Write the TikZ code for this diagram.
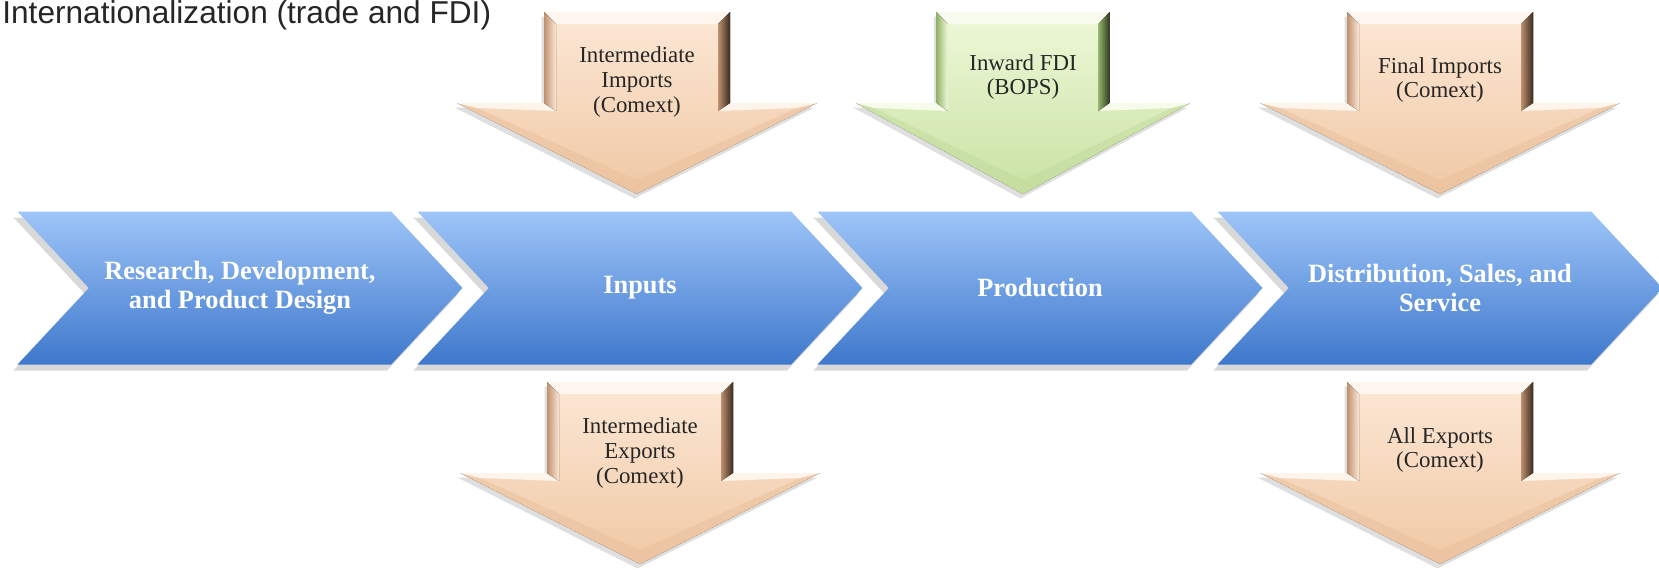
\documentclass[tikz,border=0pt]{standalone}
\usepackage{fontspec}
\setmainfont{Liberation Serif}
\newfontfamily\titlefont{Liberation Sans}
\usetikzlibrary{shapes.symbols, shadows, positioning}

\definecolor{stepTop}{HTML}{9EC5F8}
\definecolor{stepBot}{HTML}{3E78CC}
\definecolor{peachL}{HTML}{FCE8D6}
\definecolor{peachD}{HTML}{F0C8A4}
\definecolor{peachE}{HTML}{BE9170}
\definecolor{peachK}{HTML}{3A2A1E}
\definecolor{leafL}{HTML}{EEF8D8}
\definecolor{leafD}{HTML}{C9E2A4}
\definecolor{leafE}{HTML}{93B36A}
\definecolor{leafK}{HTML}{2F3A22}

\begin{document}
\begin{tikzpicture}[x=0.2mm, y=-0.2mm, node distance={80mm},
  chain/.style = {signal, signal to=east, signal from=west, signal pointer angle=94,
    minimum width=89mm, minimum height=30.6mm, inner sep=0pt,
    top color=stepTop, bottom color=stepBot,
    drop shadow={shadow xshift=-0.8mm, shadow yshift=-1.2mm, opacity=0.3},
    text=white, align=center, font=\fontsize{15}{16.5}\selectfont\bfseries},
  flow/.style = {align=center, inner sep=0pt, text=black!85,
    font=\fontsize{13}{14}\selectfont},
  pics/dnarrow/.style n args={4}{code={
    \fill[top color=#1, bottom color=#2,
      drop shadow={shadow xshift=-0.5mm, shadow yshift=-0.9mm, opacity=0.25}]
      (-93,0) -- (93,0) -- (93,91) -- (180,91) -- (0,182) -- (-180,91) -- (-93,91) -- cycle;
    % bevel on the head
    \fill[#2!85!#3, opacity=0.5] (-180,91) -- (0,182) -- (180,91) -- (160,96) -- (0,168) -- (-160,96) -- cycle;
    \fill[#1!50!white] (-180,91) -- (-93,91) -- (-81,99) -- (-160,96) -- cycle;
    \fill[#1!50!white] (180,91) -- (93,91) -- (81,99) -- (160,96) -- cycle;
    % bevel on the shaft
    \fill[#1!40!white] (-93,0) -- (93,0) -- (81,12) -- (-81,12) -- cycle;
    \fill[left color=#3, right color=#1] (-93,0) -- (-81,12) -- (-81,99) -- (-93,91) -- cycle;
    \fill[left color=#3, right color=#4] (93,0) -- (81,12) -- (81,99) -- (93,91) -- cycle;
  }}]
\useasboundingbox (0,0) rectangle (1659,569);

\node[anchor=base west, inner sep=0pt, text=black!85,
  font=\titlefont\fontsize{18}{20}\selectfont] (title) at (2,23) {Internationalization (trade and FDI)};

% value chain
\node[chain] (rd) at (240,288) {Research, Development,\\and Product Design};
\node[chain, right of=rd] (inp) {Inputs};
\node[chain, right of=inp] (prod) {Production};
\node[chain, right of=prod] (dist) {Distribution, Sales, and\\Service};

% flows in and out
\pic[shift={(637,12)}] {dnarrow={peachL}{peachD}{peachE}{peachK}};
\pic[shift={(1023,12)}, xscale=0.93] {dnarrow={leafL}{leafD}{leafE}{leafK}};
\pic[shift={(1440,12)}] {dnarrow={peachL}{peachD}{peachE}{peachK}};
\pic[shift={(640,382)}] {dnarrow={peachL}{peachD}{peachE}{peachK}};
\pic[shift={(1440,382)}] {dnarrow={peachL}{peachD}{peachE}{peachK}};

\node[flow] (intimp) at (637,82) {Intermediate\\Imports\\(Comext)};
\node[flow] (fdi) at (1023,77) {Inward FDI\\(BOPS)};
\node[flow] (finimp) at (1440,80) {Final Imports\\(Comext)};
\node[flow] (intexp) at (640,453) {Intermediate\\Exports\\(Comext)};
\node[flow] (allexp) at (1440,450) {All Exports\\(Comext)};
\end{tikzpicture}
\end{document}
